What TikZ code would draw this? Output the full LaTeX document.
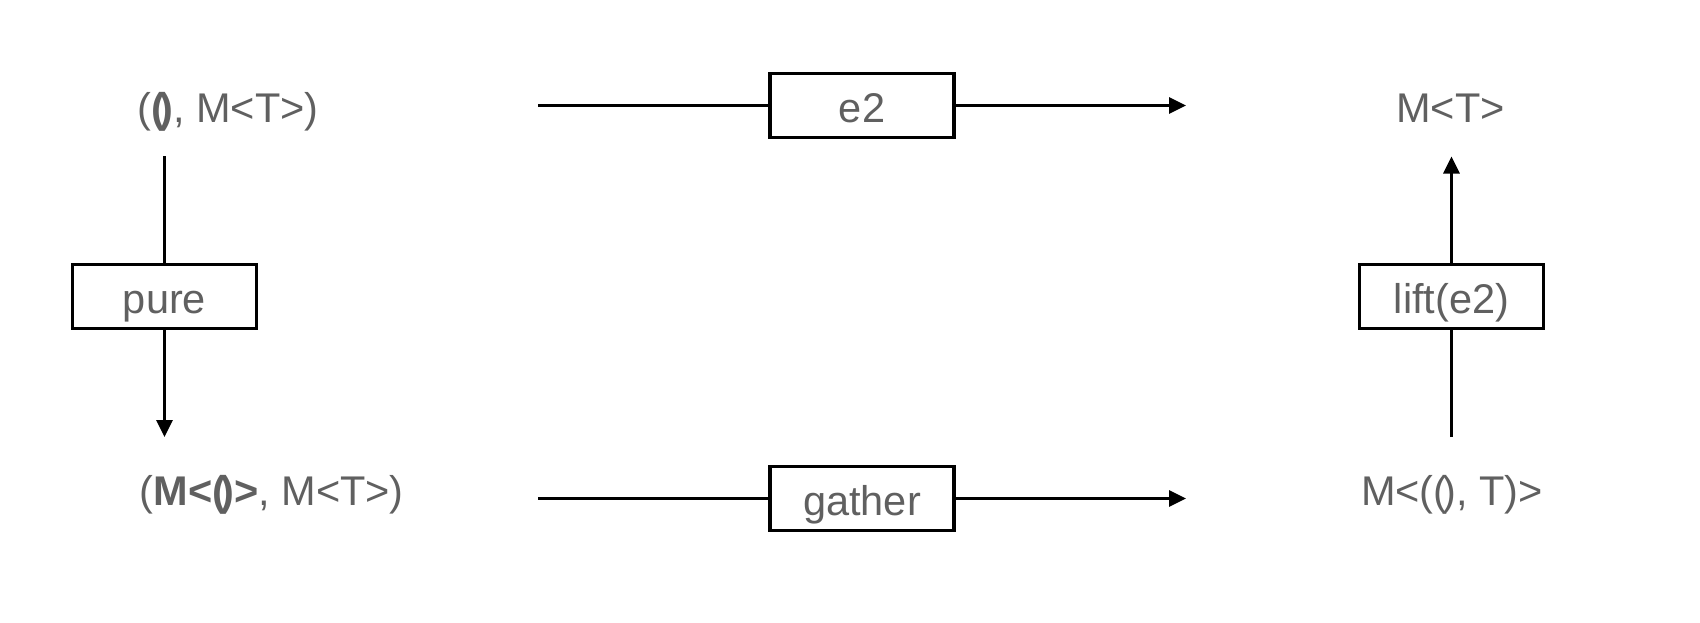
\documentclass[tikz,border=0pt]{standalone}
\usepackage{fontspec}
\setmainfont{Liberation Sans}
\usetikzlibrary{arrows.meta}
\definecolor{txt}{HTML}{606060}
\tikzset{
  lbl/.style={inner sep=0pt, anchor=base, text=txt, font=\fontsize{41.5}{50}\selectfont},
  opbox/.style={draw=black, line width=3.2pt, fill=white, minimum width=184pt, minimum height=64pt, inner sep=0pt, text height=33pt, text depth=0pt, text=txt, font=\fontsize{41.5}{50}\selectfont},
  conn/.style={line width=3.2pt, draw=black},
  arr/.style={conn, -{Triangle[length=17pt,width=16pt]}}
}
\begin{document}
\begin{tikzpicture}[x=1pt,y=-1pt]
\useasboundingbox (0,0) rectangle (1700,622);
% text nodes
\node[lbl] (tl) at (228,122.5) {(\textbf{(\kern-0.14em)}, M<T>)};
\node[lbl] (tr) at (1450.5,122.5) {M<T>};
\node[lbl] (bl) at (271.7,505) {(\textbf{M<(\kern-0.14em)>}, M<T>)};
\node[lbl] (br) at (1452,505) {M<((\kern-0.12em), T)>};
% operation boxes
\node[opbox] (e2) at (862,105.5) {e2};
\node[opbox] (gather) at (862,498.5) {gather};
\node[opbox] (pure) at (164.5,296.5) {pure};
\node[opbox] (lift) at (1451.5,296.5) {lift(e2)};
% free ends
\coordinate (e2in) at (538,105.5);
\coordinate (e2out) at (1186,105.5);
\coordinate (gin) at (538,498.5);
\coordinate (gout) at (1186,498.5);
\coordinate (pin) at (164.5,156);
\coordinate (pout) at (164.5,437);
\coordinate (lin) at (1451.5,437);
\coordinate (lout) at (1451.5,156.5);
% connectors
\draw[conn] (e2in) -- (e2.west);
\draw[arr] (e2.east) -- (e2out);
\draw[conn] (gin) -- (gather.west);
\draw[arr] (gather.east) -- (gout);
\draw[conn] (pin) -- (pure.north);
\draw[arr] (pure.south) -- (pout);
\draw[conn] (lin) -- (lift.south);
\draw[arr] (lift.north) -- (lout);
\end{tikzpicture}
\end{document}
